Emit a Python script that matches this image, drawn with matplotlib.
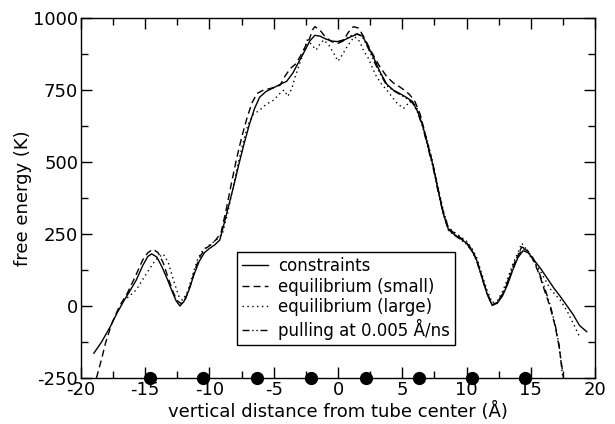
import matplotlib
matplotlib.use("Agg")
import matplotlib.pyplot as plt
from matplotlib.ticker import MultipleLocator

# constraints (solid)
x_con = [-19.0, -18.4, -17.7, -17.2, -16.7, -16.2, -15.7, -15.2, -14.8, -14.5, -14.1, -13.7, -13.3, -12.9, -12.6,
         -12.3, -12.0, -11.6, -11.2, -10.8, -10.4, -10.0, -9.6, -9.2, -8.9, -8.5, -8.1, -7.7, -7.3, -6.9, -6.5, -6.1,
         -5.6, -5.0, -4.5, -4.0, -3.5, -3.0, -2.6, -2.2, -1.8, -1.4, -1.0, -0.5, 0.0, 0.5, 1.0, 1.5, 1.9, 2.3, 2.8,
         3.3, 3.8, 4.3, 4.8, 5.3, 5.8, 6.2, 6.6, 7.0, 7.4, 7.8, 8.2, 8.6, 9.0, 9.5, 10.0, 10.4, 10.8, 11.2, 11.6,
         12.0, 12.4, 12.8, 13.2, 13.6, 14.0, 14.4, 14.8, 15.3, 15.8, 16.3, 16.8, 17.3, 17.8, 18.3, 18.8, 19.35]
y_con = [-164, -125, -70, -25, 15, 52, 90, 140, 172, 181, 170, 136, 95, 50, 18,
         0, 15, 55, 110, 155, 185, 200, 212, 229, 280, 350, 420, 495, 565, 630, 685, 725,
         745, 758, 770, 780, 810, 852, 885, 920, 940, 937, 928, 920, 918, 924, 935, 944, 938, 905, 860,
         810, 770, 750, 738, 725, 710, 675, 625, 555, 487, 400, 320, 265, 250, 235, 218, 195, 158, 100, 42,
         2, 10, 35, 75, 125, 168, 192, 185, 157, 128, 95, 62, 33, 2, -30, -68, -89]

# equilibrium (small) (dashed)
x_eqs = [-18.8, -18.4, -18.1, -17.6, -17.0, -16.4, -15.8, -15.2, -14.8, -14.4, -14.0, -13.6, -13.2, -12.8, -12.5,
         -12.2, -11.9, -11.5, -11.1, -10.7, -10.3, -9.9, -9.5, -9.1, -8.7, -8.3, -7.9, -7.5, -7.1, -6.7, -6.3, -5.8,
         -5.3, -4.9, -4.5, -4.1, -3.7, -3.3, -2.9, -2.5, -2.2, -2.0, -1.8, -1.4, -1.0, -0.5, 0.0, 0.4, 0.8, 1.2,
         1.6, 2.0, 2.6, 3.2, 3.8, 4.3, 4.8, 5.3, 5.6, 6.0, 6.4, 7.0, 7.4, 7.8, 8.2, 8.6, 9.0, 9.5, 10.0, 10.4,
         10.8, 11.2, 11.6, 12.0, 12.4, 12.8, 13.2, 13.6, 14.0, 14.4, 14.8, 15.2, 15.7, 16.1, 16.5, 16.9, 17.2, 17.55]
y_eqs = [-250, -185, -130, -60, 0, 44, 100, 160, 185, 197, 185, 150, 95, 45, 18,
         8, 20, 70, 130, 175, 200, 212, 230, 255, 335, 425, 510, 585, 650, 705, 738, 750,
         755, 760, 767, 800, 825, 840, 870, 905, 930, 958, 970, 958, 935, 918, 912, 920, 950, 970,
         965, 935, 883, 835, 796, 775, 761, 745, 733, 709, 665, 560, 490, 405, 325, 270, 255, 238, 220, 197,
         160, 102, 45, 5, 12, 40, 80, 130, 175, 200, 190, 160, 105, 50, -2, -70, -140, -250]

# equilibrium (large) (dotted)
x_eql = [-16.4, -15.7, -14.9, -14.2, -13.6, -13.2, -12.8, -12.4, -12.1, -11.7, -11.3, -10.9, -10.5, -10.0, -9.5,
         -9.0, -8.6, -8.2, -7.8, -7.4, -7.0, -6.6, -6.1, -5.6, -5.0, -4.6, -4.2, -3.9, -3.6, -3.3, -3.0, -2.7,
         -2.4, -2.0, -1.7, -1.4, -1.1, -0.7, -0.3, 0.0, 0.3, 0.7, 1.0, 1.3, 1.7, 2.0, 2.3, 2.7, 3.0, 3.4, 3.8,
         4.2, 4.6, 5.1, 5.6, 6.0, 6.4, 7.0, 7.4, 7.8, 8.2, 8.6, 9.0, 9.5, 10.0, 10.4, 10.8, 11.2, 11.6, 12.0,
         12.4, 12.8, 13.2, 13.6, 14.0, 14.3, 14.6, 15.0, 15.7, 16.5, 17.3, 17.8, 18.3, 18.85]
y_eql = [28, 56, 113, 160, 181, 150, 90, 35, 20, 50, 110, 165, 195, 212, 228,
         250, 320, 405, 490, 565, 630, 665, 680, 700, 715, 735, 750, 728, 755, 800, 840, 877,
         924, 905, 889, 910, 924, 905, 875, 850, 870, 900, 920, 935, 918, 885, 866, 825, 796, 770, 750,
         726, 704, 686, 710, 700, 660, 565, 495, 410, 330, 272, 258, 242, 225, 202, 168, 110, 55, 12,
         18, 50, 95, 145, 185, 218, 200, 170, 125, 60, 20, -15, -60, -112]

# pulling at 0.005 A/ns (dash-dot)
x_pul = [0.0, 0.5, 1.0, 1.5, 1.9, 2.3, 2.8, 3.3, 3.8, 4.3, 4.8, 5.3, 5.8, 6.2, 6.6, 7.0, 7.4, 7.8, 8.2, 8.6,
         9.0, 9.5, 10.0, 10.4, 10.8, 11.2, 11.6, 12.0, 12.4, 12.8, 13.2, 13.6, 14.0, 14.3, 14.7, 15.2, 15.7,
         16.1, 16.5, 16.9, 17.2, 17.5]
y_pul = [918, 925, 938, 945, 935, 900, 850, 805, 765, 748, 735, 722, 705, 672, 620, 550, 480, 395, 318, 262,
         248, 232, 215, 192, 155, 98, 42, 3, 12, 42, 85, 135, 178, 205, 195, 165, 110,
         60, 5, -65, -135, -250]

# positions of markers on the axis
x_dots = [-14.63, -10.5, -6.3, -2.1, 2.15, 6.3, 10.43, 14.55]
y_dots = [-250] * len(x_dots)

labels = ["constraints", "equilibrium (small)", "equilibrium (large)", "pulling at 0.005 Å/ns"]

plt.rcParams['font.family'] = ['DejaVu Sans']
plt.rcParams['axes.unicode_minus'] = False
fig = plt.figure(figsize=(6.15, 4.24), dpi=100)
ax = fig.add_axes([0.1317, 0.1085, 0.8358, 0.849])

lw = 1.0
ax.plot(x_con, y_con, color='black', lw=lw, ls='-', label=labels[0])
ax.plot(x_eqs, y_eqs, color='black', lw=lw, ls=(0, (5, 3)), label=labels[1])
ax.plot(x_eql, y_eql, color='black', lw=lw, ls=(0, (1, 2.5)), label=labels[2])
ax.plot(x_pul, y_pul, color='black', lw=lw, ls=(0, (5, 2, 1, 2, 1, 2)), label=labels[3])
ax.plot(x_dots, y_dots, 'o', color='black', ms=8.5, clip_on=False, zorder=5)

ax.set_xlim(-20, 20)
ax.set_ylim(-250, 1000)
ax.xaxis.set_major_locator(MultipleLocator(5))
ax.xaxis.set_minor_locator(MultipleLocator(2.5))
ax.yaxis.set_major_locator(MultipleLocator(250))
ax.yaxis.set_minor_locator(MultipleLocator(125))
ax.tick_params(which='both', direction='in', top=True, right=True, labelsize=13, width=1, pad=2)
ax.tick_params(which='major', length=8)
ax.tick_params(which='minor', length=5)
for s in ax.spines.values():
    s.set_linewidth(1.0)

ax.set_xlabel("vertical distance from tube center (Å)", fontsize=13, labelpad=2)
ax.set_ylabel("free energy (K)", fontsize=13, labelpad=1)

leg = ax.legend(loc='lower left', bbox_to_anchor=(0.303, 0.092), fontsize=12, frameon=True,
                fancybox=False, edgecolor='black', handlelength=1.6, handletextpad=0.6,
                borderpad=0.3, labelspacing=0.15, borderaxespad=0)
leg.get_frame().set_linewidth(1.0)
leg.get_frame().set_alpha(1)

fig.savefig("out.png", dpi=100)
